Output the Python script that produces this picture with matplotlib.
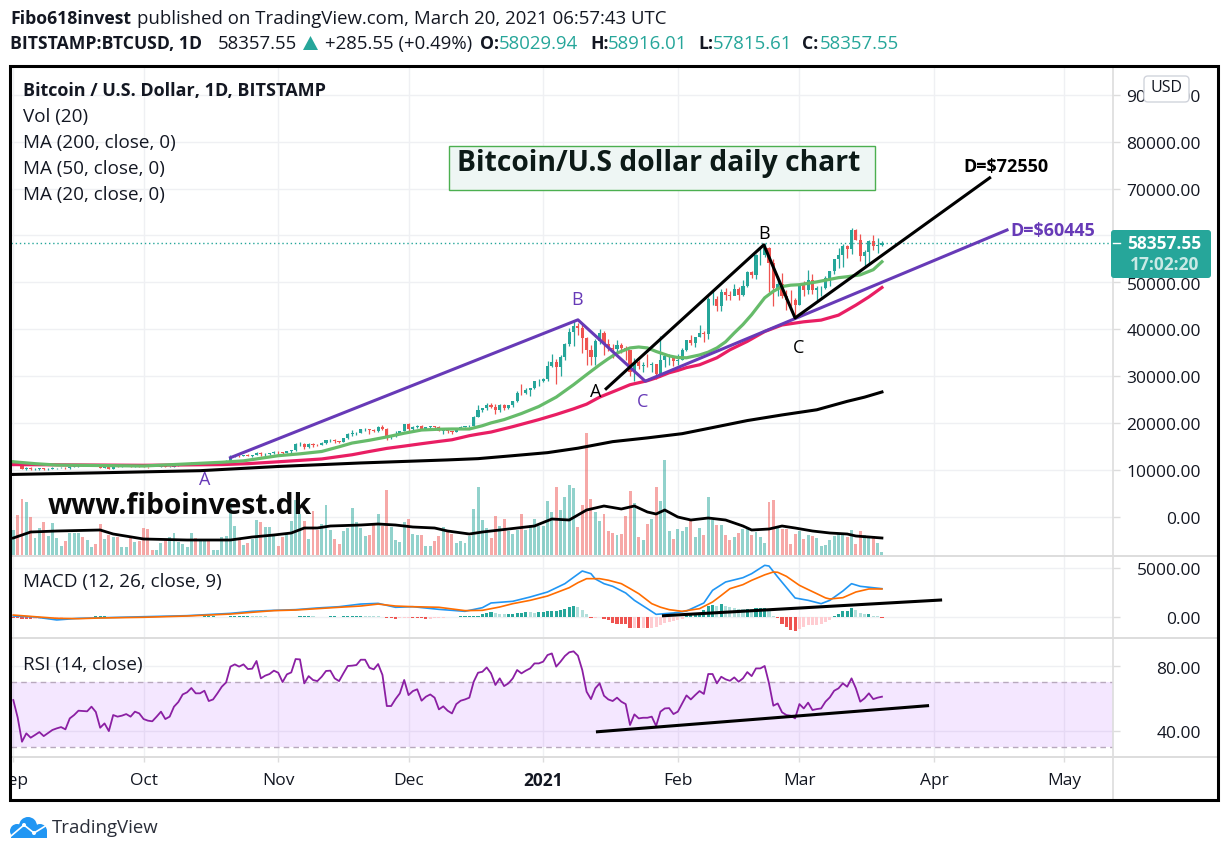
import matplotlib
matplotlib.use('Agg')
import matplotlib.pyplot as plt
from matplotlib.patches import Circle, FancyBboxPatch, Polygon, Rectangle
from matplotlib.transforms import ScaledTranslation

plt.rcParams['font.family'] = ['Open Sans', 'DejaVu Sans']

W, H = 1229, 855

# daily candles, 2020-09-01 .. 2021-03-20, index 0 = Sep 1
first_open = 11650
closes = [
    11920, 11400, 10170, 10470, 10170, 10260, 10380, 10130, 10240, 10350, 10390, 10440, 10330, 10680, 10790,
    10950, 10940, 10940, 11080, 10920, 10420, 10530, 10240, 10740, 10690, 10730, 10770, 10690, 10840, 10780,
    10620, 10570, 10550, 10670, 10790, 10600, 10670, 10920, 11060, 11300, 11370, 11540, 11430, 11430, 11500, 11320,
    11370, 11510, 11750, 11920, 12810, 12990, 12930, 13120, 13030, 13070, 13650, 13280, 13460, 13560, 13800,
    13760, 13560, 14030, 14140, 15590, 15590, 14840, 15480, 15330, 15300, 15700, 16290, 16330, 16070, 15970,
    16730, 17680, 17800, 17810, 18680, 18700, 18420, 18370, 19160, 18720, 17150, 17150, 17720, 18180, 19700,
    18780, 19220, 19430, 18700, 19160, 19380, 19180, 18330, 18550, 18250, 18040, 18810, 19170, 19270, 19440, 21350,
    22800, 23130, 23860, 23480, 22740, 23830, 23230, 23730, 24700, 26470, 26280, 27030, 27360, 28880, 28980,
    29400, 32200, 33000, 32000, 33990, 36800, 39470, 40670, 40240, 38200, 35570, 34000, 37390, 39150, 36800, 36020,
    35800, 36630, 35900, 35500, 30850, 32980, 32100, 32290, 32260, 32500, 30420, 33420, 34260, 34320, 33110,
    33520, 35510, 37670, 36950, 38290, 39260, 38870, 46450, 46500, 44850, 47970, 47390, 47190, 48580,
    47200, 49150, 52150, 51590, 55900, 55900, 57400, 54100, 48900, 49700, 47000, 46300, 46200, 45200,
    49600, 48400, 50400, 48400, 48800, 48900, 50950, 52400, 54900, 55800, 57800, 57200, 61200, 59000, 55700, 56400,
    58900, 57700, 58029.94, 58357.55,
]
highs = [
    12050, 11950, 11450, 10630, 10570, 10350, 10420, 10410, 10360, 10480, 10400, 10480, 10580, 10750, 10930,
    11090, 11040, 11020, 11180, 11050, 10920, 10570, 10650, 10770, 10760, 10780, 10800, 10950, 10860, 10850,
    10920, 10670, 10600, 10690, 10800, 10800, 10700, 10950, 11110, 11490, 11440, 11720, 11550, 11550, 11630, 11540,
    11400, 11530, 11810, 12040, 13200, 13030, 13170, 13200, 13330, 13240, 13780, 13830, 13620, 13640, 14100,
    13900, 13800, 14060, 14270, 15760, 15960, 15770, 15650, 15800, 15480, 15960, 16400, 16490, 16480, 16170,
    16790, 17800, 18470, 17990, 18800, 18960, 18790, 18770, 19380, 19480, 18890, 17500, 18300, 18340, 19800,
    19900, 19300, 19560, 19630, 19180, 19400, 19420, 19250, 18620, 18600, 18250, 18940, 19430, 19340, 19550, 21560,
    23770, 23270, 24170, 24300, 24100, 24050, 24080, 23800, 24780, 26860, 28400, 27500, 27500, 29000, 29320,
    29600, 33300, 34700, 33600, 34400, 37000, 40200, 41950, 41350, 41350, 38300, 36600, 37850, 40100, 39700, 37900,
    36800, 37800, 37100, 36400, 35500, 33800, 33500, 33000, 34800, 32900, 32600, 38500, 34900, 34800, 34350,
    34700, 35900, 37700, 38700, 38300, 40900, 39700, 46800, 48100, 47100, 48500, 48800, 48100, 49700,
    49000, 50500, 52500, 52500, 56000, 57400, 58300, 57500, 55000, 51400, 52000, 48300, 48300, 46600,
    49800, 50200, 52600, 51800, 49300, 49200, 51400, 52500, 55000, 57400, 58100, 58000, 61700, 61300, 60400, 56900,
    59000, 60000, 59400, 58916.01,
]
lows = [
    11670, 11180, 10100, 9880, 9880, 9900, 9880, 10000, 10020, 10220, 10220, 10290, 10200, 10240, 10650,
    10670, 10730, 10800, 10890, 10770, 10370, 10360, 10140, 10200, 10630, 10650, 10700, 10640, 10640, 10660,
    10520, 10380, 10520, 10510, 10590, 10530, 10530, 10530, 10830, 11100, 11290, 11200, 11310, 11280, 11270, 11200,
    11250, 11330, 11400, 11690, 11880, 12700, 12730, 12900, 12850, 12800, 13050, 12970, 12990, 13130, 13430,
    13230, 13200, 13530, 13500, 14100, 15170, 14400, 14700, 14900, 15090, 15260, 15420, 15970, 15800, 15700,
    15860, 16550, 17200, 17350, 17750, 18350, 17600, 18000, 18050, 18500, 16400, 16500, 16900, 17550, 18180,
    18160, 18340, 18900, 18600, 18530, 18900, 18900, 18200, 17650, 17900, 17570, 18000, 18700, 19060, 19050, 19270,
    21250, 22330, 22770, 23080, 21800, 22400, 22650, 23000, 23450, 24500, 25900, 26100, 25800, 27300, 27900,
    28700, 29000, 32000, 28200, 30000, 33500, 36500, 36500, 38700, 35000, 32400, 32400, 32400, 36800, 34500, 35400,
    33900, 34700, 35000, 33500, 30050, 28850, 31500, 30900, 31900, 30900, 29300, 29800, 32000, 32300, 32200,
    32400, 33400, 35400, 36600, 36200, 38300, 37350, 38000, 45200, 43800, 43800, 46300, 46200, 47200,
    46300, 47000, 49000, 50900, 50800, 53700, 55500, 48000, 45000, 47000, 46700, 44200, 44900, 43000,
    45100, 47100, 47500, 47500, 46300, 47100, 48500, 49300, 51800, 53000, 53200, 55100, 56000, 59000, 54600, 53400,
    54100, 57000, 56300, 57815.61,
]
volumes = [
    25, 40, 56, 53, 38, 17, 27, 33, 19, 32, 17, 9, 14, 22, 22, 22, 18, 15, 8, 11,
    31, 16, 20, 18, 18, 8, 8, 17, 13, 14, 27, 26, 5, 5, 12, 15, 18, 22, 13, 11,
    8, 22, 17, 15, 15, 15, 5, 5, 18, 19, 52, 29, 15, 10, 12, 16, 35, 33, 28, 28,
    19, 9, 18, 22, 34, 55, 41, 34, 16, 44, 25, 31, 50, 25, 16, 11, 24, 27, 47, 33,
    27, 19, 20, 30, 41, 29, 65, 28, 15, 13, 33, 36, 21, 20, 20, 9, 9, 14, 19, 28,
    23, 21, 12, 14, 12, 19, 46, 68, 35, 27, 17, 39, 29, 36, 24, 21, 25, 41, 25, 30,
    36, 29, 29, 54, 43, 68, 45, 58, 70, 67, 28, 50, 122, 56, 43, 34, 41, 24, 22, 20,
    21, 39, 64, 52, 18, 15, 31, 36, 68, 54, 95, 24, 16, 26, 24, 28, 34, 18, 27, 20,
    58, 35, 30, 30, 20, 15, 18, 22, 26, 27, 20, 23, 18, 12, 53, 55, 27, 26, 26, 11,
    21, 24, 16, 20, 19, 17, 9, 10, 15, 19, 21, 20, 18, 25, 11, 24, 20, 18, 19, 12, 3,
]
vol_ma_days = [0, 2, 4, 10, 20, 23, 30, 40, 50, 55, 60, 64, 67, 70, 73, 80, 84, 88, 92, 97, 100, 105, 108, 112, 116,
               120, 124, 128, 130, 132, 136, 140, 143, 146, 148, 150, 153, 156, 160, 164, 168, 170, 174, 177, 180,
               184, 188, 192, 194, 200]
vol_ma = [17, 20, 23, 24, 25, 21, 16, 15, 15, 18, 20, 22, 27, 27, 29, 30, 31, 30, 28, 27, 24, 21, 23, 25, 27,
          29, 36, 35, 40, 45, 49, 46, 49, 43, 41, 45, 38, 35, 37, 35, 29, 25, 26, 29, 27,
          24, 22, 21, 19, 17]

ma20_days = [0, 5, 10, 30, 48, 53, 61, 66, 71, 75, 78, 82, 86, 90, 94, 98, 101, 105, 108, 110, 113, 117, 121, 125,
             129, 132, 135, 137, 139, 142, 144, 146, 148, 151, 153, 155, 158, 160, 162, 164, 166, 168, 170, 173,
             175, 177, 179, 181, 185, 190, 192, 195, 198, 200]
ma20 = [11700, 11300, 11000, 10800, 11600, 11900, 13000, 13400, 13900, 14900, 15700, 16300, 17000, 17800, 18480,
        18650, 18700, 18700, 19400, 20000, 20700, 22000, 23500, 25500, 28150, 30300, 32400, 33700, 34900, 36000,
        36200, 36000, 35250, 34300, 33950, 33900, 34500, 35100, 36000, 37300, 39200, 41000, 43100, 46700, 48100,
        49100, 49400, 49500, 50100, 51000, 51200, 51600, 52700, 54400]
ma50_days = [0, 30, 48, 54, 61, 66, 71, 78, 82, 86, 90, 94, 98, 101, 105, 107, 110, 115, 121, 125, 129, 132, 135,
             139, 142, 146, 148, 151, 153, 155, 158, 162, 165, 169, 173, 177, 182, 186, 190, 194, 197, 200]
ma50 = [11100, 10950, 11100, 11300, 11700, 12000, 12300, 13200, 13900, 14560, 15050, 15560, 16050, 16400, 17270,
        17600, 18050, 19200, 20700, 21800, 23000, 24000, 25500, 27000, 28150, 29000, 29600, 30700, 31200, 31800,
        32400, 33900, 35600, 37400, 39500, 40900, 41580, 41940, 43000, 45140, 46900, 48900]
ma200_days = [0, 20, 43, 61, 80, 100, 107, 115, 123, 130, 138, 146, 154, 161, 169, 177, 185, 192, 196, 200]
ma200 = [9000, 9350, 9800, 10700, 11450, 12100, 12370, 13000, 13650, 14600, 16000, 16800, 17700, 19000, 20500, 21700,
         22800, 24600, 25500, 26600]

macd_days = [0, 5, 10, 15, 30, 40, 50, 55, 60, 65, 70, 75, 80, 84, 88, 92, 98, 104, 108, 110, 115, 119, 123, 127,
             129, 131, 133, 134, 136, 138, 141, 143, 146, 148, 152, 155, 159, 161, 164, 168, 170, 173, 174, 176,
             180, 183, 186, 188, 191, 193, 195, 200]
macd = [100, 0, -300, -136, 30, 136, 370, 580, 680, 750, 920, 1050, 1320, 1390, 990, 1050, 780, 580, 950, 1430, 1600,
        2040, 2550, 3400, 4050, 4690, 4420, 3880, 3400, 3130, 2450, 1700, 850, 270, 410, 610, 1430, 2720, 3570, 4010,
        4420, 5270, 5200, 4080, 1940, 1700, 1360, 1700, 2650, 3400, 3130, 2890]
signal_days = [0, 5, 10, 15, 20, 30, 40, 50, 55, 60, 65, 70, 75, 80, 84, 88, 92, 98, 104, 108, 112, 115, 119, 123,
               126, 128, 130, 132, 135, 137, 140, 142, 144, 147, 149, 151, 154, 158, 161, 163, 165, 168, 170, 173,
               175, 176, 178, 181, 183, 185, 187, 188, 191, 194, 197, 200]
signal = [200, 30, -136, -170, -100, -30, 100, 300, 480, 650, 710, 850, 990, 1120, 1320, 1120, 1050, 990, 650, 680,
          1020, 1360, 1700, 2140, 2650, 2990, 3500, 3910, 3910, 3750, 3400, 2900, 2380, 1360, 1000, 750, 580, 850,
          1530, 2200, 2890, 3300, 3740, 4300, 4590, 4560, 4150, 3230, 2800, 2380, 1950, 1840, 1970, 2550, 2860, 2860]
macd_hist = [
    -60, -120, -170, -200, -220, -220, -200, -180, -150, -120,
    -90, -60, -40, -30, -10, 10, 30, 40, 50, 60,
    60, 60, 50, 40, 40, 30, 30, 20, 20, 10,
    10, 0, -10, -10, -10, -10, 0, 10, 20, 30,
    30, 40, 50, 50, 60, 60, 60, 50, 50, 50,
    70, 100, 120, 130, 140, 130, 120, 90, 60, 50,
    40, 40, 50, 30, 30, 40, 60, 70, 80, 60,
    50, 30, 50, 70, 70, 50, 60, 90, 110, 120,
    130, 120, 100, 80, 60, -40, -90, -140, -160, -130,
    -100, -90, -100, -110, -130, -170, -160, -130, -100, -60,
    -30, -20, 30, 60, 90, 110, 130, 150,
    340, 440, 480, 370, 300, 270, 270, 340, 400, 400, 480, 470, 440, 530, 530, 580, 650, 650, 680, 820, 1020, 1090,
    1020, 680, 340,
    -60, -60, -50, -170, -330, -600, -680, -700, -750, -1130, -1130, -1140, -1100, -1130, -1120, -1060, -850, -600,
    -480, -400, -300, -170,
    170, 240, 340, 380, 680, 1090, 1180, 1150, 1290, 1150, 1020, 950, 840, 800, 800, 780, 880, 950, 950, 680,
    70, -60, -680, -1020, -1360, -1430, -1190, -1020, -850, -850, -780, -680, -540, -270, 100, 270, 580, 600, 880, 680,
    370, 270, 270, 150, 70, -80,
]
rsi = [
    59.0, 48.2, 33.1, 38.3, 35.6, 37.3, 39.1, 36.6, 38.5, 40.4, 41.4, 42.2, 40.8, 47.6, 49.7, 52.4, 52.2, 52.0, 54.9,
    51.6, 41.8, 44.5, 39.7, 49.7, 48.7, 49.3, 50.3, 48.7, 51.8, 50.7,
    47.2, 46.2, 45.8, 48.7, 51.8, 47.2, 48.7, 54.9, 57.8, 62.5,
    63.8, 66.5, 63.2, 63.2, 64.8, 58.4, 59.4, 63.2, 67.3, 70.0,
    79.8, 81.2, 79.8, 81.2, 78.3, 78.5, 83.3, 72.5, 74.2, 75.2,
    77.3, 76.0, 70.2, 75.0, 76.2, 84.5, 84.3, 69.4, 73.9, 71.5,
    70.8, 73.5, 77.1, 77.3, 72.5, 70.8, 75.6, 80.2, 80.4, 80.8,
    84.1, 84.1, 79.1, 78.1, 81.4, 74.6, 55.3, 55.3, 59.6, 63.2,
    71.5, 62.1, 64.6, 65.7, 58.6, 61.1, 62.5, 60.5, 53.2, 55.1,
    52.4, 50.7, 56.5, 58.6, 59.4, 60.5, 70.4, 76.0,
    76.6, 79.3, 75.6, 68.4, 72.5, 67.7, 69.4, 72.5, 77.7, 75.6,
    77.3, 78.7, 81.8, 81.8, 82.9, 87.0, 88.0, 79.8, 82.9, 86.4,
    88.7, 89.3, 86.6, 77.7, 64.2, 59.6, 66.3, 69.4, 61.7, 59.4,
    58.4, 60.5, 58.0, 56.5, 43.5, 50.1, 47.6, 48.0, 48.0, 48.7,
    42.9, 51.8, 53.8, 54.0, 50.3, 51.8, 56.9, 61.9, 59.4, 62.1,
    64.6, 62.8, 75.2, 75.2, 69.4, 73.5, 71.9, 71.0, 73.1, 70.4,
    72.5, 76.4, 73.9, 78.7, 78.7, 80.2, 69.4, 55.5, 56.9, 51.4,
    49.7, 49.3, 47.6, 56.5, 53.8, 57.4, 52.8, 53.4, 53.8, 58.0,
    60.7, 64.8, 66.3, 69.4, 67.3, 72.5, 66.3, 58.0, 60.1, 63.2,
    59.6, 60.5, 61.1,
]

# hand-drawn ABCD projections and trend lines, in days / price
purple_days = [50, 130, 145.5, 228.8]
purple_prices = [12580, 42000, 28900, 61170]
black_days = [136.5, 172.8, 180, 224.8]
black_prices = [27300, 58000, 42400, 72300]
macd_trend_days = [149.7, 213.5]
macd_trend = [130, 1730]
rsi_trend_days = [134.5, 210.5]
rsi_trend = [39.3, 55.5]

month_days = [0, 30, 61, 91, 122, 153, 181, 212, 242]
month_labels = ['Sep', 'Oct', 'Nov', 'Dec', '2021', 'Feb', 'Mar', 'Apr', 'May']
price_ticks = [0, 10000, 20000, 30000, 40000, 50000, 60000, 70000, 80000, 90000]
macd_ticks = [0, 5000]
rsi_ticks = [40, 80]

assert len(closes) == len(highs) == len(lows) == len(volumes) == len(macd_hist) == len(rsi) == 201

days = list(range(len(closes)))
opens = [first_open] + closes[:-1]
UP, DOWN = '#26a69a', '#ef5350'
INK = '#131722'
GRID = '#eff0f3'
SEP = '#dddddd'
PURPLE = '#673ab7'
candle_colors = [UP if c >= o else DOWN for o, c in zip(opens, closes)]

XLIM = (-0.53, 253.2)


def panel(top, bottom, z=1):
    left, right = 11, 1113
    a = fig.add_axes([left / W, 1 - bottom / H, (right - left) / W, (bottom - top) / H], zorder=z)
    a.set_xlim(*XLIM)
    a.patch.set_visible(False)
    for s in a.spines.values():
        s.set_visible(False)
    a.set_xticks(month_days)
    a.tick_params(axis='x', length=0, labelbottom=False)
    a.grid(True, color=GRID, lw=1)
    a.set_axisbelow(True)
    a.yaxis.tick_right()
    a.tick_params(axis='y', length=5, width=1, color=SEP, pad=58.3, labelsize=12.5, labelcolor=INK)
    return a


def tick_labels(a, ticks, hidden=()):
    a.set_yticks(ticks)
    a.set_yticklabels(['' if t in hidden else f'{t:.2f}' for t in ticks], ha='right')
    # labels sit a pixel under their tick in the reference
    nudge = ScaledTranslation(0, -1.2 / 100, fig.dpi_scale_trans)
    for lab in a.get_yticklabels():
        lab.set_transform(lab.get_transform() + nudge)


fig = plt.figure(figsize=(W / 100, H / 100), dpi=100, facecolor='white')

# grid goes on its own layer, under the volume bars
ax_bg = panel(67, 556, z=0)
ax_bg.set_ylim(-8410, 95965)
ax_bg.set_yticks(price_ticks)
ax_bg.tick_params(axis='y', length=0, labelright=False)

ax_vol = panel(67, 556, z=1)
ax_vol.grid(False)
ax_vol.set_yticks([])
ax_vol.set_ylim(-1, 488)
ax_vol.bar(days, volumes, width=0.68, color=candle_colors, alpha=0.5, lw=0)
ax_vol.plot(vol_ma_days, vol_ma, color='black', lw=2)

ax = panel(67, 556, z=2)
ax.grid(False)
ax.set_ylim(-8410, 95965)
# the 60000 label lies under the last-price tag in the reference
tick_labels(ax, price_ticks, hidden=(60000,))
ax.axhline(closes[-1], color=UP, lw=1, ls=(0, (1, 2)))
ax.vlines(days, lows, highs, color=candle_colors, lw=0.9)
ax.bar(days, [abs(c - o) for o, c in zip(opens, closes)], bottom=[min(o, c) for o, c in zip(opens, closes)],
       width=0.72, color=candle_colors, lw=0)
ax.plot(ma200_days, ma200, color='black', lw=2.2)
ax.plot(ma50_days, ma50, color='#e91e63', lw=2.3)
ax.plot(ma20_days, ma20, color='#66bb6a', lw=2.3)
ax.plot(purple_days, purple_prices, color=PURPLE, lw=2.2)
ax.plot(black_days, black_prices, color='black', lw=2.2)

ax_macd = panel(556, 638)
ax_macd.set_ylim(-2142, 6222)
tick_labels(ax_macd, macd_ticks)
hist_colors = []
for i, v in enumerate(macd_hist):
    prev = macd_hist[i - 1] if i else 0
    if v >= 0:
        hist_colors.append('#26a69a' if v >= prev else '#b2dfdb')
    else:
        hist_colors.append('#ffcdd2' if v >= prev else '#ef5350')
ax_macd.bar(days, macd_hist, width=0.72, color=hist_colors, lw=0)
ax_macd.plot(macd_days, macd, color='#2196f3', lw=1.2)
ax_macd.plot(signal_days, signal, color='#ff6d00', lw=1.2)
ax_macd.plot(macd_trend_days, macd_trend, color='black', lw=2.2)

ax_rsi = panel(638, 757)
ax_rsi.set_ylim(23.6, 97.6)
tick_labels(ax_rsi, rsi_ticks)
ax_rsi.axhspan(30, 70, color='#9915ff', alpha=0.1, lw=0)
ax_rsi.axhline(70, color='#b8a9bd', lw=1, ls=(0, (4, 3)))
ax_rsi.axhline(30, color='#b8a9bd', lw=1, ls=(0, (4, 3)))
ax_rsi.plot(days, rsi, color='#8b1fa3', lw=1.3)
ax_rsi.plot(rsi_trend_days, rsi_trend, color='black', lw=2.2)

ax_time = panel(757, 799)
ax_time.grid(False)
ax_time.set_yticks([])
ax_time.set_ylim(0, 1)
ax_time.vlines(month_days, 0.88, 1, color=SEP, lw=1)
for d, lab in zip(month_days, month_labels):
    ax_time.text(d, 0.44, lab, ha='center', va='center', fontsize=12.5, color=INK, clip_on=True,
                 fontweight='bold' if lab == '2021' else 'normal')

# everything else is placed in picture pixels
ov = fig.add_axes([0, 0, 1, 1], zorder=5)
ov.set_xlim(0, W)
ov.set_ylim(H, 0)
ov.axis('off')
ov.patch.set_visible(False)


def label(x, y, s, size=12, color=INK, weight='normal', ha='left', **kw):
    ov.text(x, y + 1.2, s, fontsize=size, color=color, fontweight=weight, ha=ha, va='center', **kw)


for y in (556, 638, 757):
    ov.plot([11, 1217], [y, y], color=SEP, lw=1.4)
ov.plot([1113, 1113], [67, 799], color=SEP, lw=1.2)
ov.add_patch(Rectangle((10, 66), 1208, 733.5, fill=False, ec='black', lw=2.2, zorder=6))

label(10, 18, 'Fibo618invest', 12.7, weight='bold')
label(137, 18, 'published on TradingView.com, March 20, 2021 06:57:43 UTC', 13.45)
label(10, 43, 'BITSTAMP:BTCUSD, 1D', 12.7, weight='bold')
label(218, 43, '58357.55', 13.45)
ov.add_patch(Polygon([[303, 50], [318, 50], [310.5, 36]], color=UP, lw=0))
label(325, 43, '+285.55 (+0.49%)', 13.45)
for x, s, xv, v in [(480, 'O:', 499, '58029.94'), (590, 'H:', 608, '58916.01'),
                    (698, 'L:', 713, '57815.61'), (802, 'C:', 820, '58357.55')]:
    label(x, 43, s, 12.7, weight='bold')
    label(xv, 43, v, 13.45, color=UP)

label(23, 90, 'Bitcoin / U.S. Dollar, 1D, BITSTAMP', 13, weight='bold')
label(23, 116, 'Vol (20)', 13.6)
label(23, 142, 'MA (200, close, 0)', 13.6)
label(23, 168, 'MA (50, close, 0)', 13.6)
label(23, 194, 'MA (20, close, 0)', 13.6)
label(23, 581, 'MACD (12, 26, close, 9)', 13.6)
label(23, 664, 'RSI (14, close)', 13.6)

ov.add_patch(Rectangle((449, 146), 426, 44, fc='#eef6f4', ec='#4caf50', lw=1))
label(457, 162.5, 'Bitcoin/U.S dollar daily chart', 20.3, color='#0c1a17', weight='bold')
label(48, 505, 'www.fiboinvest.dk', 20.3, color='#0a0a0a', weight='bold')

label(577, 299, 'B', 13, color=PURPLE, ha='center')
label(205, 479, 'A', 13, color=PURPLE, ha='center')
label(643, 401, 'C', 13, color=PURPLE, ha='center')
label(596, 391, 'A', 13, color='black', ha='center')
label(764, 233, 'B', 13, color='black', ha='center')
label(799, 347, 'C', 13, color='black', ha='center')
label(1006, 166, 'D=$72550', 13, color='black', ha='center', weight='bold')
label(1053, 230, 'D=$60445', 13, color=PURPLE, ha='center', weight='bold')

ov.add_patch(FancyBboxPatch((1113, 232), 96, 44, boxstyle='round,pad=2,rounding_size=3', fc=UP, ec='none', zorder=7))
ov.plot([1113, 1120], [243.5, 243.5], color='white', lw=1, zorder=8)
ov.text(1201, 244, '58357.55', fontsize=12.5, color='white', fontweight='bold', ha='right', va='center', zorder=8)
ov.text(1199, 265, '17:02:20', fontsize=12.5, color='#c9e9e5', fontweight='bold', ha='right', va='center', zorder=8)

ov.add_patch(FancyBboxPatch((1146, 78), 41, 22, boxstyle='round,pad=2,rounding_size=4', fc='white', ec='#d1d4dc',
                            lw=1, zorder=7))
ov.text(1166, 88, 'USD', fontsize=11.5, color=INK, ha='center', va='center', zorder=8)

# TradingView logo
LOGO = '#2196f3'
ov.add_patch(Circle((28, 826), 9, color=LOGO, lw=0))
ov.add_patch(Circle((17, 831), 7, color=LOGO, lw=0))
ov.add_patch(Circle((40, 831), 7, color=LOGO, lw=0))
ov.add_patch(Rectangle((11, 831), 36, 7, color=LOGO, lw=0))
ov.plot([11, 24, 34, 47], [836, 825, 833, 825], color='white', lw=1.2)
ov.add_patch(Circle((24, 825), 2, color='white', lw=0))
ov.add_patch(Circle((34, 833), 2, color='white', lw=0))
label(52, 827, 'TradingView', 13.4, color='#2a2e39')

fig.savefig('out.png', dpi=100, facecolor='white')
